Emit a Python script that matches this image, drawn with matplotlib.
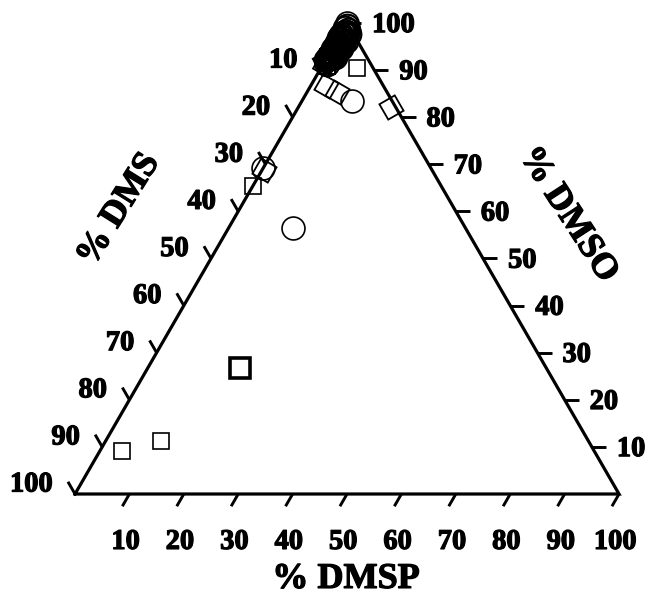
import numpy as np
import matplotlib as mpl
mpl.use('Agg')
import matplotlib.pyplot as plt
import matplotlib.patheffects as pe

plt.rcParams['font.family'] = ['Liberation Serif', 'DejaVu Serif']
plt.rcParams['font.weight'] = 'bold'

# Sample compositions in percent; % DMS = 100 - DMSP - DMSO
square_dmsp = [4.1, 10.2, 0.0, 6.6]
square_dmso = [9.1, 11.3, 65.4, 90.4]

bold_square_dmsp = [16.9]
bold_square_dmso = [26.8]

circle_dmsp = [11.8, 0.0, 9.2, 0.0]
circle_dmso = [56.5, 69.2, 83.4, 100.0]

# diamonds sitting close to the right edge / the DMSO corner
diamond_r_dmsp = [17.0]
diamond_r_dmso = [82.2]
diamond_l_dmsp = [2.8, 5.5, 0.3]
diamond_l_dmso = [86.6, 85.4, 68.8]

# dense group of samples near 100 % DMSO
cluster_c_dmsp = [0.4, 0.9, 0.2, 1.2, 0.5, 0.8, 0.3, 1.0, 0.6, 1.3, 0.2, 0.7,
                  1.1, 0.4, 0.9, 0.3, 0.6, 1.2, 0.5, 0.2, 0.8, 0.4, 1.0, 0.3,
                  1.5, 0.7, 1.8, 0.1, 1.4, 0.6, 1.6, 0.2, 1.1, 0.4, 0.8, 0.3,
                  1.3, 0.5, 0.2, 0.9, 0.1, 0.6]
cluster_c_dms = [0.3, 0.6, 0.8, 1.1, 1.4, 1.6, 1.9, 2.2, 2.5, 2.7, 3.0, 3.3,
                 3.5, 3.8, 4.1, 4.3, 4.6, 4.9, 5.2, 5.4, 5.7, 6.0, 6.2, 6.5,
                 0.9, 1.2, 2.0, 2.4, 2.9, 3.1, 3.7, 4.0, 4.5, 5.0, 5.5, 6.8,
                 5.9, 7.0, 7.3, 6.4, 7.7, 8.1]
cluster_s_dmsp = [0.6, 0.2, 1.1, 0.5, 1.6, 0.9]
cluster_s_dms = [6.8, 7.1, 5.9, 7.6, 5.2, 8.3]
cluster_d_dmsp = [0.5, 1.4, 0.3, 0.9, 1.9, 0.2]
cluster_d_dms = [7.4, 4.4, 8.0, 6.6, 3.6, 8.8]

ticks = [10, 20, 30, 40, 50, 60, 70, 80, 90, 100]

H = np.sqrt(3) / 2
TICK = 2.6


def to_xy(dmsp, dmso):
    dmsp = np.asarray(dmsp, dtype=float)
    dmso = np.asarray(dmso, dtype=float)
    return dmsp + dmso / 2, dmso * H


def cluster_xy(dmsp, dms):
    dmsp = np.asarray(dmsp, dtype=float)
    return to_xy(dmsp, 100 - np.asarray(dms, dtype=float) - dmsp)


fig = plt.figure(figsize=(6.49, 5.99), dpi=100)
ax = fig.add_axes([0, 0, 1, 1])
ax.set_xlim(-13.79, 105.51)
ax.set_ylim(-19.30, 90.81)
ax.axis('off')

# frame
tx, ty = to_xy([0, 100, 0, 0], [0, 0, 100, 0])
ax.plot(tx, ty, color='black', lw=2.3, solid_joinstyle='miter', clip_on=False)

heavy = [pe.withStroke(linewidth=0.9, foreground='black')]
tick_style = dict(color='black', lw=2.1, solid_capstyle='butt', clip_on=False)
lab_style = dict(fontsize=20.5, fontweight='bold', path_effects=heavy)
for v in ticks:
    # bottom axis: % DMSP
    x0, y0 = to_xy(v, 0)
    x1, y1 = x0 - 0.5 * TICK, y0 - H * TICK
    ax.plot([x0, x1], [y0, y1], **tick_style)
    ax.text(x1 + 0.6, -8.9, str(v), ha='center', va='center', **lab_style)
    # right axis: % DMSO
    x0, y0 = to_xy(100 - v, v)
    x1, y1 = x0 + TICK, y0
    ax.plot([x0, x1], [y0, y1], **tick_style)
    ax.text(x1 + 2.0, y1 - 0.5, str(v), ha='left', va='center', **lab_style)
    # left axis: % DMS
    x0, y0 = to_xy(0, 100 - v)
    x1, y1 = x0 - 0.5 * TICK, y0 + H * TICK
    ax.plot([x0, x1], [y0, y1], **tick_style)
    ax.text(x1 - 2.8, y1 - 0.6, str(v), ha='right', va='center', **lab_style)

title_style = dict(ha='center', va='center', fontsize=26, path_effects=heavy)
ax.text(49.8, -15.7, '% DMSP', **title_style)
ax.text(8.1, 52.2, '% DMS', rotation=58, **title_style)
ax.text(90.6, 51.3, '% DMSO', rotation=-57, **title_style)

mk = dict(ls='none', mfc='none', mec='black', clip_on=False)

x, y = cluster_xy(cluster_c_dmsp, cluster_c_dms)
ax.plot(x, y, marker='o', ms=17, mew=1.6, **mk)
x, y = cluster_xy(cluster_s_dmsp, cluster_s_dms)
ax.plot(x, y, marker='s', ms=12, mew=1.4, **mk)
x, y = cluster_xy(cluster_d_dmsp, cluster_d_dms)
ax.plot(x, y, marker=(4, 0, 15), ms=17, mew=1.4, **mk)

x, y = to_xy(square_dmsp, square_dmso)
ax.plot(x, y, marker='s', ms=11.5, mew=1.2, **mk)
x, y = to_xy(bold_square_dmsp, bold_square_dmso)
ax.plot(x, y, marker='s', ms=14, mew=2.6, **mk)
x, y = to_xy(circle_dmsp, circle_dmso)
ax.plot(x, y, marker='o', ms=16.5, mew=1.2, **mk)
x, y = to_xy(diamond_r_dmsp, diamond_r_dmso)
ax.plot(x, y, marker=(4, 0, 75), ms=18, mew=1.3, **mk)
x, y = to_xy(diamond_l_dmsp, diamond_l_dmso)
ax.plot(x, y, marker=(4, 0, 15), ms=18, mew=1.3, **mk)

fig.savefig('out.png', dpi=100)
